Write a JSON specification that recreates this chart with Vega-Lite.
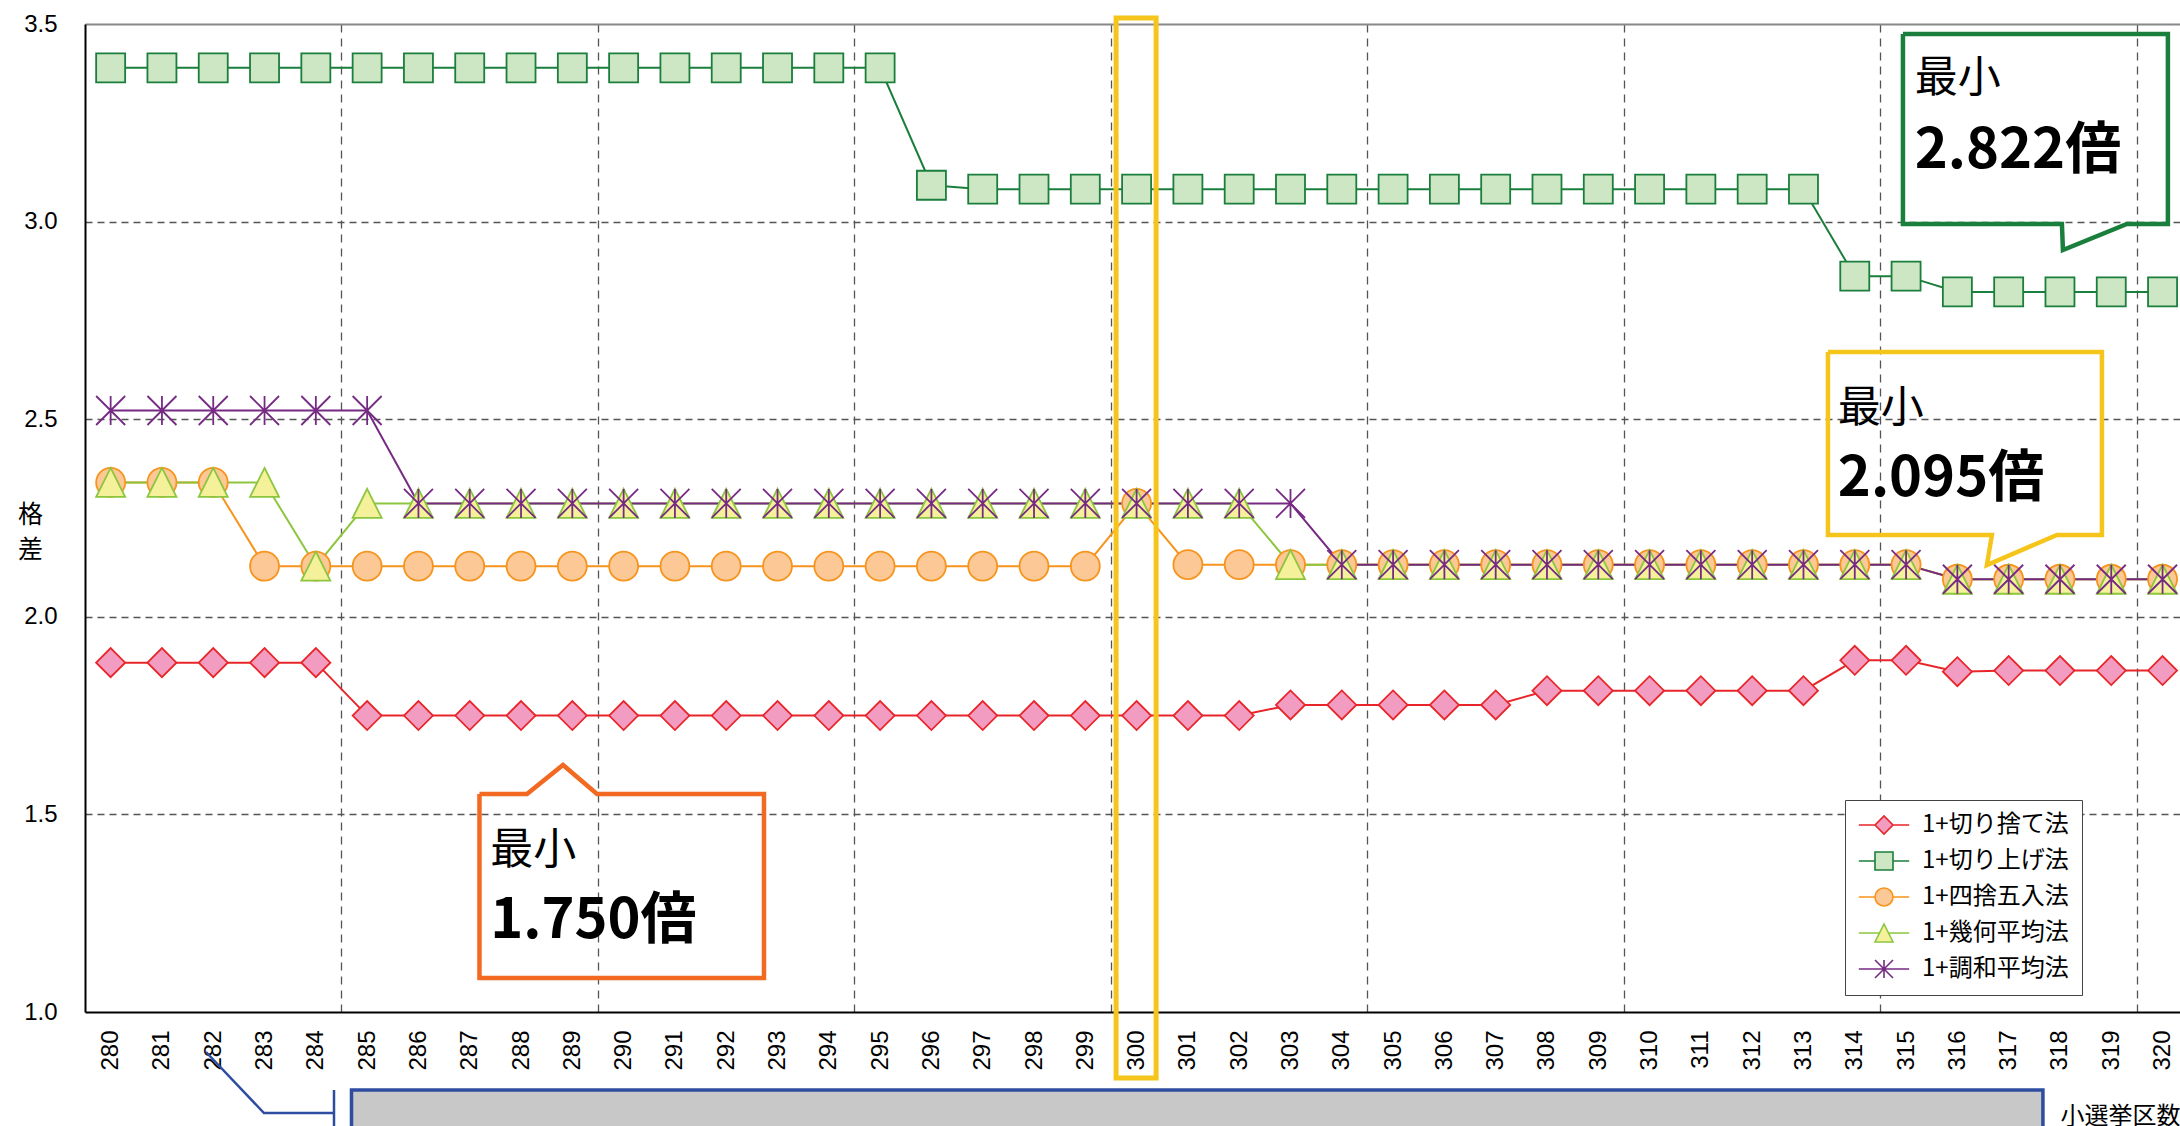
{
  "$schema": "https://vega.github.io/schema/vega-lite/v6.json",
  "width": 2095,
  "height": 988,
  "autosize": {"type": "none"},
  "padding": {"left": 85, "top": 24, "right": 0, "bottom": 114},
  "background": "white",
  "config": {"view": {"stroke": null}, "font": "Liberation Sans"},
  "datasets": {
    "ratios": [
      {"seats":280,"method":"1+切り捨て法","ratio":1.884},{"seats":281,"method":"1+切り捨て法","ratio":1.884},{"seats":282,"method":"1+切り捨て法","ratio":1.884},{"seats":283,"method":"1+切り捨て法","ratio":1.884},{"seats":284,"method":"1+切り捨て法","ratio":1.884},
      {"seats":285,"method":"1+切り捨て法","ratio":1.75},{"seats":286,"method":"1+切り捨て法","ratio":1.75},{"seats":287,"method":"1+切り捨て法","ratio":1.75},{"seats":288,"method":"1+切り捨て法","ratio":1.75},{"seats":289,"method":"1+切り捨て法","ratio":1.75},{"seats":290,"method":"1+切り捨て法","ratio":1.75},{"seats":291,"method":"1+切り捨て法","ratio":1.75},{"seats":292,"method":"1+切り捨て法","ratio":1.75},{"seats":293,"method":"1+切り捨て法","ratio":1.75},{"seats":294,"method":"1+切り捨て法","ratio":1.75},{"seats":295,"method":"1+切り捨て法","ratio":1.75},{"seats":296,"method":"1+切り捨て法","ratio":1.75},{"seats":297,"method":"1+切り捨て法","ratio":1.75},{"seats":298,"method":"1+切り捨て法","ratio":1.75},{"seats":299,"method":"1+切り捨て法","ratio":1.75},{"seats":300,"method":"1+切り捨て法","ratio":1.75},{"seats":301,"method":"1+切り捨て法","ratio":1.75},{"seats":302,"method":"1+切り捨て法","ratio":1.75},
      {"seats":303,"method":"1+切り捨て法","ratio":1.777},{"seats":304,"method":"1+切り捨て法","ratio":1.777},{"seats":305,"method":"1+切り捨て法","ratio":1.777},{"seats":306,"method":"1+切り捨て法","ratio":1.777},{"seats":307,"method":"1+切り捨て法","ratio":1.777},
      {"seats":308,"method":"1+切り捨て法","ratio":1.813},{"seats":309,"method":"1+切り捨て法","ratio":1.813},{"seats":310,"method":"1+切り捨て法","ratio":1.813},{"seats":311,"method":"1+切り捨て法","ratio":1.813},{"seats":312,"method":"1+切り捨て法","ratio":1.813},{"seats":313,"method":"1+切り捨て法","ratio":1.813},
      {"seats":314,"method":"1+切り捨て法","ratio":1.89},{"seats":315,"method":"1+切り捨て法","ratio":1.89},{"seats":316,"method":"1+切り捨て法","ratio":1.861},{"seats":317,"method":"1+切り捨て法","ratio":1.864},{"seats":318,"method":"1+切り捨て法","ratio":1.864},{"seats":319,"method":"1+切り捨て法","ratio":1.864},{"seats":320,"method":"1+切り捨て法","ratio":1.864},

      {"seats":280,"method":"1+切り上げ法","ratio":3.389},{"seats":281,"method":"1+切り上げ法","ratio":3.389},{"seats":282,"method":"1+切り上げ法","ratio":3.389},{"seats":283,"method":"1+切り上げ法","ratio":3.389},{"seats":284,"method":"1+切り上げ法","ratio":3.389},{"seats":285,"method":"1+切り上げ法","ratio":3.389},{"seats":286,"method":"1+切り上げ法","ratio":3.389},{"seats":287,"method":"1+切り上げ法","ratio":3.389},{"seats":288,"method":"1+切り上げ法","ratio":3.389},{"seats":289,"method":"1+切り上げ法","ratio":3.389},{"seats":290,"method":"1+切り上げ法","ratio":3.389},{"seats":291,"method":"1+切り上げ法","ratio":3.389},{"seats":292,"method":"1+切り上げ法","ratio":3.389},{"seats":293,"method":"1+切り上げ法","ratio":3.389},{"seats":294,"method":"1+切り上げ法","ratio":3.389},{"seats":295,"method":"1+切り上げ法","ratio":3.389},
      {"seats":296,"method":"1+切り上げ法","ratio":3.092},
      {"seats":297,"method":"1+切り上げ法","ratio":3.082},{"seats":298,"method":"1+切り上げ法","ratio":3.082},{"seats":299,"method":"1+切り上げ法","ratio":3.082},{"seats":300,"method":"1+切り上げ法","ratio":3.082},{"seats":301,"method":"1+切り上げ法","ratio":3.082},{"seats":302,"method":"1+切り上げ法","ratio":3.082},{"seats":303,"method":"1+切り上げ法","ratio":3.082},{"seats":304,"method":"1+切り上げ法","ratio":3.082},{"seats":305,"method":"1+切り上げ法","ratio":3.082},{"seats":306,"method":"1+切り上げ法","ratio":3.082},{"seats":307,"method":"1+切り上げ法","ratio":3.082},{"seats":308,"method":"1+切り上げ法","ratio":3.082},{"seats":309,"method":"1+切り上げ法","ratio":3.082},{"seats":310,"method":"1+切り上げ法","ratio":3.082},{"seats":311,"method":"1+切り上げ法","ratio":3.082},{"seats":312,"method":"1+切り上げ法","ratio":3.082},{"seats":313,"method":"1+切り上げ法","ratio":3.082},
      {"seats":314,"method":"1+切り上げ法","ratio":2.862},{"seats":315,"method":"1+切り上げ法","ratio":2.862},
      {"seats":316,"method":"1+切り上げ法","ratio":2.822},{"seats":317,"method":"1+切り上げ法","ratio":2.822},{"seats":318,"method":"1+切り上げ法","ratio":2.822},{"seats":319,"method":"1+切り上げ法","ratio":2.822},{"seats":320,"method":"1+切り上げ法","ratio":2.822},

      {"seats":280,"method":"1+四捨五入法","ratio":2.34},{"seats":281,"method":"1+四捨五入法","ratio":2.34},{"seats":282,"method":"1+四捨五入法","ratio":2.34},
      {"seats":283,"method":"1+四捨五入法","ratio":2.128},{"seats":284,"method":"1+四捨五入法","ratio":2.128},{"seats":285,"method":"1+四捨五入法","ratio":2.128},{"seats":286,"method":"1+四捨五入法","ratio":2.128},{"seats":287,"method":"1+四捨五入法","ratio":2.128},{"seats":288,"method":"1+四捨五入法","ratio":2.128},{"seats":289,"method":"1+四捨五入法","ratio":2.128},{"seats":290,"method":"1+四捨五入法","ratio":2.128},{"seats":291,"method":"1+四捨五入法","ratio":2.128},{"seats":292,"method":"1+四捨五入法","ratio":2.128},{"seats":293,"method":"1+四捨五入法","ratio":2.128},{"seats":294,"method":"1+四捨五入法","ratio":2.128},{"seats":295,"method":"1+四捨五入法","ratio":2.128},{"seats":296,"method":"1+四捨五入法","ratio":2.128},{"seats":297,"method":"1+四捨五入法","ratio":2.128},{"seats":298,"method":"1+四捨五入法","ratio":2.128},{"seats":299,"method":"1+四捨五入法","ratio":2.128},
      {"seats":300,"method":"1+四捨五入法","ratio":2.287},
      {"seats":301,"method":"1+四捨五入法","ratio":2.132},{"seats":302,"method":"1+四捨五入法","ratio":2.132},{"seats":303,"method":"1+四捨五入法","ratio":2.132},{"seats":304,"method":"1+四捨五入法","ratio":2.132},{"seats":305,"method":"1+四捨五入法","ratio":2.132},{"seats":306,"method":"1+四捨五入法","ratio":2.132},{"seats":307,"method":"1+四捨五入法","ratio":2.132},{"seats":308,"method":"1+四捨五入法","ratio":2.132},{"seats":309,"method":"1+四捨五入法","ratio":2.132},{"seats":310,"method":"1+四捨五入法","ratio":2.132},{"seats":311,"method":"1+四捨五入法","ratio":2.132},{"seats":312,"method":"1+四捨五入法","ratio":2.132},{"seats":313,"method":"1+四捨五入法","ratio":2.132},{"seats":314,"method":"1+四捨五入法","ratio":2.132},{"seats":315,"method":"1+四捨五入法","ratio":2.132},
      {"seats":316,"method":"1+四捨五入法","ratio":2.095},{"seats":317,"method":"1+四捨五入法","ratio":2.095},{"seats":318,"method":"1+四捨五入法","ratio":2.095},{"seats":319,"method":"1+四捨五入法","ratio":2.095},{"seats":320,"method":"1+四捨五入法","ratio":2.095},

      {"seats":280,"method":"1+幾何平均法","ratio":2.34},{"seats":281,"method":"1+幾何平均法","ratio":2.34},{"seats":282,"method":"1+幾何平均法","ratio":2.34},{"seats":283,"method":"1+幾何平均法","ratio":2.34},
      {"seats":284,"method":"1+幾何平均法","ratio":2.128},
      {"seats":285,"method":"1+幾何平均法","ratio":2.287},{"seats":286,"method":"1+幾何平均法","ratio":2.287},{"seats":287,"method":"1+幾何平均法","ratio":2.287},{"seats":288,"method":"1+幾何平均法","ratio":2.287},{"seats":289,"method":"1+幾何平均法","ratio":2.287},{"seats":290,"method":"1+幾何平均法","ratio":2.287},{"seats":291,"method":"1+幾何平均法","ratio":2.287},{"seats":292,"method":"1+幾何平均法","ratio":2.287},{"seats":293,"method":"1+幾何平均法","ratio":2.287},{"seats":294,"method":"1+幾何平均法","ratio":2.287},{"seats":295,"method":"1+幾何平均法","ratio":2.287},{"seats":296,"method":"1+幾何平均法","ratio":2.287},{"seats":297,"method":"1+幾何平均法","ratio":2.287},{"seats":298,"method":"1+幾何平均法","ratio":2.287},{"seats":299,"method":"1+幾何平均法","ratio":2.287},{"seats":300,"method":"1+幾何平均法","ratio":2.287},{"seats":301,"method":"1+幾何平均法","ratio":2.287},{"seats":302,"method":"1+幾何平均法","ratio":2.287},
      {"seats":303,"method":"1+幾何平均法","ratio":2.132},{"seats":304,"method":"1+幾何平均法","ratio":2.132},{"seats":305,"method":"1+幾何平均法","ratio":2.132},{"seats":306,"method":"1+幾何平均法","ratio":2.132},{"seats":307,"method":"1+幾何平均法","ratio":2.132},{"seats":308,"method":"1+幾何平均法","ratio":2.132},{"seats":309,"method":"1+幾何平均法","ratio":2.132},{"seats":310,"method":"1+幾何平均法","ratio":2.132},{"seats":311,"method":"1+幾何平均法","ratio":2.132},{"seats":312,"method":"1+幾何平均法","ratio":2.132},{"seats":313,"method":"1+幾何平均法","ratio":2.132},{"seats":314,"method":"1+幾何平均法","ratio":2.132},{"seats":315,"method":"1+幾何平均法","ratio":2.132},
      {"seats":316,"method":"1+幾何平均法","ratio":2.095},{"seats":317,"method":"1+幾何平均法","ratio":2.095},{"seats":318,"method":"1+幾何平均法","ratio":2.095},{"seats":319,"method":"1+幾何平均法","ratio":2.095},{"seats":320,"method":"1+幾何平均法","ratio":2.095},

      {"seats":280,"method":"1+調和平均法","ratio":2.522},{"seats":281,"method":"1+調和平均法","ratio":2.522},{"seats":282,"method":"1+調和平均法","ratio":2.522},{"seats":283,"method":"1+調和平均法","ratio":2.522},{"seats":284,"method":"1+調和平均法","ratio":2.522},{"seats":285,"method":"1+調和平均法","ratio":2.522},
      {"seats":286,"method":"1+調和平均法","ratio":2.287},{"seats":287,"method":"1+調和平均法","ratio":2.287},{"seats":288,"method":"1+調和平均法","ratio":2.287},{"seats":289,"method":"1+調和平均法","ratio":2.287},{"seats":290,"method":"1+調和平均法","ratio":2.287},{"seats":291,"method":"1+調和平均法","ratio":2.287},{"seats":292,"method":"1+調和平均法","ratio":2.287},{"seats":293,"method":"1+調和平均法","ratio":2.287},{"seats":294,"method":"1+調和平均法","ratio":2.287},{"seats":295,"method":"1+調和平均法","ratio":2.287},{"seats":296,"method":"1+調和平均法","ratio":2.287},{"seats":297,"method":"1+調和平均法","ratio":2.287},{"seats":298,"method":"1+調和平均法","ratio":2.287},{"seats":299,"method":"1+調和平均法","ratio":2.287},{"seats":300,"method":"1+調和平均法","ratio":2.287},{"seats":301,"method":"1+調和平均法","ratio":2.287},{"seats":302,"method":"1+調和平均法","ratio":2.287},{"seats":303,"method":"1+調和平均法","ratio":2.287},
      {"seats":304,"method":"1+調和平均法","ratio":2.132},{"seats":305,"method":"1+調和平均法","ratio":2.132},{"seats":306,"method":"1+調和平均法","ratio":2.132},{"seats":307,"method":"1+調和平均法","ratio":2.132},{"seats":308,"method":"1+調和平均法","ratio":2.132},{"seats":309,"method":"1+調和平均法","ratio":2.132},{"seats":310,"method":"1+調和平均法","ratio":2.132},{"seats":311,"method":"1+調和平均法","ratio":2.132},{"seats":312,"method":"1+調和平均法","ratio":2.132},{"seats":313,"method":"1+調和平均法","ratio":2.132},{"seats":314,"method":"1+調和平均法","ratio":2.132},{"seats":315,"method":"1+調和平均法","ratio":2.132},
      {"seats":316,"method":"1+調和平均法","ratio":2.095},{"seats":317,"method":"1+調和平均法","ratio":2.095},{"seats":318,"method":"1+調和平均法","ratio":2.095},{"seats":319,"method":"1+調和平均法","ratio":2.095},{"seats":320,"method":"1+調和平均法","ratio":2.095}
    ],
    "callouts": [
      {"id":"1+切り捨て法","i":0,"x":287.19,"y":1.5516},
      {"id":"1+切り捨て法","i":1,"x":288.116,"y":1.5516},
      {"id":"1+切り捨て法","i":2,"x":288.818,"y":1.625},
      {"id":"1+切り捨て法","i":3,"x":289.481,"y":1.5516},
      {"id":"1+切り捨て法","i":4,"x":292.736,"y":1.5516},
      {"id":"1+切り捨て法","i":5,"x":292.736,"y":1.086},
      {"id":"1+切り捨て法","i":6,"x":287.19,"y":1.086},
      {"id":"1+切り捨て法","i":7,"x":287.19,"y":1.5516},
      {"id":"1+切り上げ法","i":0,"x":314.939,"y":3.4747},
      {"id":"1+切り上げ法","i":1,"x":320.104,"y":3.4747},
      {"id":"1+切り上げ法","i":2,"x":320.104,"y":2.9939},
      {"id":"1+切り上げ法","i":3,"x":319.305,"y":2.9939},
      {"id":"1+切り上げ法","i":4,"x":318.058,"y":2.9281},
      {"id":"1+切り上げ法","i":5,"x":318.038,"y":2.9939},
      {"id":"1+切り上げ法","i":6,"x":314.939,"y":2.9939},
      {"id":"1+切り上げ法","i":7,"x":314.939,"y":3.4747},
      {"id":"その他","i":0,"x":313.477,"y":2.67},
      {"id":"その他","i":1,"x":318.818,"y":2.67},
      {"id":"その他","i":2,"x":318.818,"y":2.207},
      {"id":"その他","i":3,"x":317.941,"y":2.207},
      {"id":"その他","i":4,"x":316.576,"y":2.1311},
      {"id":"その他","i":5,"x":316.673,"y":2.207},
      {"id":"その他","i":6,"x":313.477,"y":2.207},
      {"id":"その他","i":7,"x":313.477,"y":2.67}
    ],
    "notes": [
      {"id":"1+切り捨て法","kind":"label","x":287.4,"y":1.375,"text":"最小"},
      {"id":"1+切り捨て法","kind":"value","x":287.4,"y":1.1873,"text":"1.750倍"},
      {"id":"1+切り上げ法","kind":"label","x":315.17,"y":3.328,"text":"最小"},
      {"id":"1+切り上げ法","kind":"value","x":315.17,"y":3.1356,"text":"2.822倍"},
      {"id":"その他","kind":"label","x":313.67,"y":2.493,"text":"最小"},
      {"id":"その他","kind":"value","x":313.67,"y":2.3057,"text":"2.095倍"}
    ],
    "highlight": [{"seats":300,"x":299.6,"x2":300.38,"y":3.515,"y2":0.833}],
    "connector": [
      {"part":"leader","i":0,"x":281.859,"y":0.8988},
      {"part":"leader","i":1,"x":282.989,"y":0.7444},
      {"part":"leader","i":2,"x":284.354,"y":0.7444},
      {"part":"bracket","i":0,"x":284.354,"y":0.8026},
      {"part":"bracket","i":1,"x":284.354,"y":0.68}
    ],
    "panel": [{"x":284.695,"x2":317.668,"y":0.8026,"y2":0.66}]
  },
  "layer": [
    {
      "data": {"name": "ratios"},
      "mark": {"type": "line", "strokeWidth": 2},
      "encoding": {
        "x": {"field": "seats", "type": "quantitative", "scale": {"domain": [279.5, 320.34], "nice": false, "zero": false},
          "axis": {"orient": "top", "values": [284.5, 289.5, 294.5, 299.5, 304.5, 309.5, 314.5, 319.5], "grid": true, "gridDash": [8, 6], "gridColor": "#555555", "gridWidth": 1.3, "labels": false, "ticks": false, "tickSize": 0, "domain": true, "domainColor": "#888888", "domainWidth": 2, "title": null}},
        "y": {"field": "ratio", "type": "quantitative", "scale": {"domain": [1, 3.5], "nice": false, "zero": false},
          "axis": {"values": [1, 1.5, 2, 2.5, 3, 3.5], "format": ".1f", "labelFont": "Liberation Sans", "labelFontSize": 24, "labelColor": "black", "labelPadding": 28, "labelFlush": false, "ticks": false, "tickSize": 0, "grid": true, "gridDash": [7, 5], "gridColor": "#555555", "gridWidth": 1.3,
            "gridOpacity": {"condition": {"test": "datum.value == 1 || datum.value == 3.5", "value": 0}, "value": 1},
            "domain": true, "domainColor": "black", "domainWidth": 2,
            "title": ["格", "差"], "titleAngle": 0, "titleFont": "Noto Sans CJK JP", "titleFontSize": 25, "titleFontWeight": "normal", "titleColor": "black", "titleX": -55, "titleY": 490, "titleAlign": "center", "titleBaseline": "middle", "titleLineHeight": 35}},
        "color": {"field": "method", "type": "nominal",
          "scale": {"domain": ["1+切り捨て法", "1+切り上げ法", "1+四捨五入法", "1+幾何平均法", "1+調和平均法"], "range": ["#E8262A", "#1A7F3C", "#F7941D", "#8CC63F", "#762A83"]},
          "legend": null}
      }
    },
    {
      "data": {"name": "ratios"},
      "mark": {"type": "point", "filled": true, "size": 841, "strokeWidth": 1.8, "opacity": 1},
      "encoding": {
        "x": {"field": "seats", "type": "quantitative", "scale": {"domain": [279.5, 320.34], "nice": false, "zero": false},
          "axis": {"orient": "bottom", "values": [280,281,282,283,284,285,286,287,288,289,290,291,292,293,294,295,296,297,298,299,300,301,302,303,304,305,306,307,308,309,310,311,312,313,314,315,316,317,318,319,320], "format": "d", "labelAngle": -90, "labelFont": "Liberation Sans", "labelFontSize": 24, "labelColor": "black", "labelPadding": 18, "labelOverlap": false, "labelFlush": false, "ticks": false, "tickSize": 0, "grid": false, "domain": true, "domainColor": "black", "domainWidth": 2,
            "title": "小選挙区数", "titleFont": "Noto Sans CJK JP", "titleFontSize": 24, "titleFontWeight": "normal", "titleColor": "black", "titleAlign": "left", "titleBaseline": "middle", "titleX": 1975, "titleY": 104}},
        "y": {"field": "ratio", "type": "quantitative", "scale": {"domain": [1, 3.5], "nice": false, "zero": false}},
        "shape": {"field": "method", "type": "nominal",
          "scale": {"domain": ["1+切り捨て法", "1+切り上げ法", "1+四捨五入法", "1+幾何平均法", "1+調和平均法"], "range": ["diamond", "square", "circle", "M0,-1L1,1L-1,1Z", "M-1,-1L1,1M1,-1L-1,1M0,-1L0,1"]},
          "legend": null},
        "fill": {"field": "method", "type": "nominal",
          "scale": {"domain": ["1+切り捨て法", "1+切り上げ法", "1+四捨五入法", "1+幾何平均法", "1+調和平均法"], "range": ["#F29CC2", "#CDE6C4", "#FBC896", "#F5F19B", "transparent"]},
          "legend": null},
        "stroke": {"field": "method", "type": "nominal",
          "scale": {"domain": ["1+切り捨て法", "1+切り上げ法", "1+四捨五入法", "1+幾何平均法", "1+調和平均法"], "range": ["#E8262A", "#1A7F3C", "#F7941D", "#8CC63F", "#762A83"]},
          "legend": null}
      }
    },
    {
      "data": {"name": "ratios"},
      "transform": [{"filter": "datum.seats < 0"}],
      "mark": {"type": "point", "filled": true, "size": 324, "strokeWidth": 1.6, "opacity": 1},
      "encoding": {
        "x": {"field": "seats", "type": "quantitative", "scale": {"domain": [279.5, 320.34], "nice": false, "zero": false}, "axis": null},
        "y": {"field": "ratio", "type": "quantitative", "scale": {"domain": [1, 3.5], "nice": false, "zero": false}},
        "shape": {"field": "method", "type": "nominal",
          "scale": {"domain": ["1+切り捨て法", "1+切り上げ法", "1+四捨五入法", "1+幾何平均法", "1+調和平均法"], "range": ["M-2.8,0L-1,0M1,0L2.8,0M-1,0L0,-1L1,0L0,1Z", "M-2.8,0L-1,0M1,0L2.8,0M-1,-1L1,-1L1,1L-1,1Z", "M-2.8,0L-1,0M1,0L2.8,0M-1,0A1,1,0,1,1,1,0A1,1,0,1,1,-1,0Z", "M-2.8,0L-0.5,0M0.5,0L2.8,0M0,-1L1,1L-1,1Z", "M-2.8,0L2.8,0M-1,-1L1,1M1,-1L-1,1M0,-1L0,1"]},
          "legend": {"title": null, "orient": "none", "legendX": 1760, "legendY": 776, "padding": 13, "rowPadding": 10, "symbolSize": 324, "symbolStrokeWidth": 1.6, "symbolOffset": 14, "labelOffset": 26, "labelFont": "Noto Sans CJK JP", "labelFontSize": 24, "labelColor": "black", "strokeColor": "#444444", "fillColor": "white"}},
        "fill": {"field": "method", "type": "nominal",
          "scale": {"domain": ["1+切り捨て法", "1+切り上げ法", "1+四捨五入法", "1+幾何平均法", "1+調和平均法"], "range": ["#F29CC2", "#CDE6C4", "#FBC896", "#F5F19B", "transparent"]},
          "legend": {"title": null, "orient": "none", "legendX": 1760, "legendY": 776, "padding": 13, "rowPadding": 10, "symbolSize": 324, "symbolStrokeWidth": 1.6, "symbolOffset": 14, "labelOffset": 26, "labelFont": "Noto Sans CJK JP", "labelFontSize": 24, "labelColor": "black", "strokeColor": "#444444", "fillColor": "white"}},
        "stroke": {"field": "method", "type": "nominal",
          "scale": {"domain": ["1+切り捨て法", "1+切り上げ法", "1+四捨五入法", "1+幾何平均法", "1+調和平均法"], "range": ["#E8262A", "#1A7F3C", "#F7941D", "#8CC63F", "#762A83"]},
          "legend": {"title": null, "orient": "none", "legendX": 1760, "legendY": 776, "padding": 13, "rowPadding": 10, "symbolSize": 324, "symbolStrokeWidth": 1.6, "symbolOffset": 14, "labelOffset": 26, "labelFont": "Noto Sans CJK JP", "labelFontSize": 24, "labelColor": "black", "strokeColor": "#444444", "fillColor": "white"}}
      }
    },
    {
      "data": {"name": "callouts"},
      "mark": {"type": "line", "strokeWidth": 4.5, "strokeJoin": "miter"},
      "encoding": {
        "x": {"field": "x", "type": "quantitative", "scale": {"domain": [279.5, 320.34], "nice": false, "zero": false}, "axis": null},
        "y": {"field": "y", "type": "quantitative", "scale": {"domain": [1, 3.5], "nice": false, "zero": false}},
        "order": {"field": "i", "type": "quantitative"},
        "color": {"field": "id", "type": "nominal", "scale": {"domain": ["1+切り捨て法", "1+切り上げ法", "その他"], "range": ["#F26A21", "#1A7F3C", "#F6C51B"]}, "legend": null}
      }
    },
    {
      "data": {"name": "notes"},
      "transform": [{"filter": "datum.kind === 'label'"}],
      "mark": {"type": "text", "align": "left", "baseline": "alphabetic", "font": "Noto Sans CJK JP", "fontSize": 43, "fontWeight": "normal", "color": "black"},
      "encoding": {
        "x": {"field": "x", "type": "quantitative", "scale": {"domain": [279.5, 320.34], "nice": false, "zero": false}, "axis": null},
        "y": {"field": "y", "type": "quantitative", "scale": {"domain": [1, 3.5], "nice": false, "zero": false}},
        "text": {"field": "text"}
      }
    },
    {
      "data": {"name": "notes"},
      "transform": [{"filter": "datum.kind === 'value'"}],
      "mark": {"type": "text", "align": "left", "baseline": "alphabetic", "font": "Noto Sans CJK JP", "fontSize": 56, "fontWeight": "bold", "color": "black"},
      "encoding": {
        "x": {"field": "x", "type": "quantitative", "scale": {"domain": [279.5, 320.34], "nice": false, "zero": false}, "axis": null},
        "y": {"field": "y", "type": "quantitative", "scale": {"domain": [1, 3.5], "nice": false, "zero": false}},
        "text": {"field": "text"}
      }
    },
    {
      "data": {"name": "highlight"},
      "mark": {"type": "rect", "filled": false, "stroke": "#F6C51B", "strokeWidth": 5},
      "encoding": {
        "x": {"field": "x", "type": "quantitative", "scale": {"domain": [279.5, 320.34], "nice": false, "zero": false}, "axis": null},
        "x2": {"field": "x2"},
        "y": {"field": "y", "type": "quantitative", "scale": {"domain": [1, 3.5], "nice": false, "zero": false}},
        "y2": {"field": "y2"}
      }
    },
    {
      "data": {"name": "panel"},
      "mark": {"type": "rect", "fill": "#C8C8C8", "stroke": "#2E4DA0", "strokeWidth": 3.5},
      "encoding": {
        "x": {"field": "x", "type": "quantitative", "scale": {"domain": [279.5, 320.34], "nice": false, "zero": false}, "axis": null},
        "x2": {"field": "x2"},
        "y": {"field": "y", "type": "quantitative", "scale": {"domain": [1, 3.5], "nice": false, "zero": false}},
        "y2": {"field": "y2"}
      }
    },
    {
      "data": {"name": "connector"},
      "mark": {"type": "line", "strokeWidth": 2.5, "color": "#2E4DA0"},
      "encoding": {
        "x": {"field": "x", "type": "quantitative", "scale": {"domain": [279.5, 320.34], "nice": false, "zero": false}, "axis": null},
        "y": {"field": "y", "type": "quantitative", "scale": {"domain": [1, 3.5], "nice": false, "zero": false}},
        "order": {"field": "i", "type": "quantitative"},
        "detail": {"field": "part", "type": "nominal"}
      }
    }
  ],
  "resolve": {"scale": {"color": "independent", "shape": "independent", "fill": "independent", "stroke": "independent"}, "axis": {"x": "independent"}}
}
